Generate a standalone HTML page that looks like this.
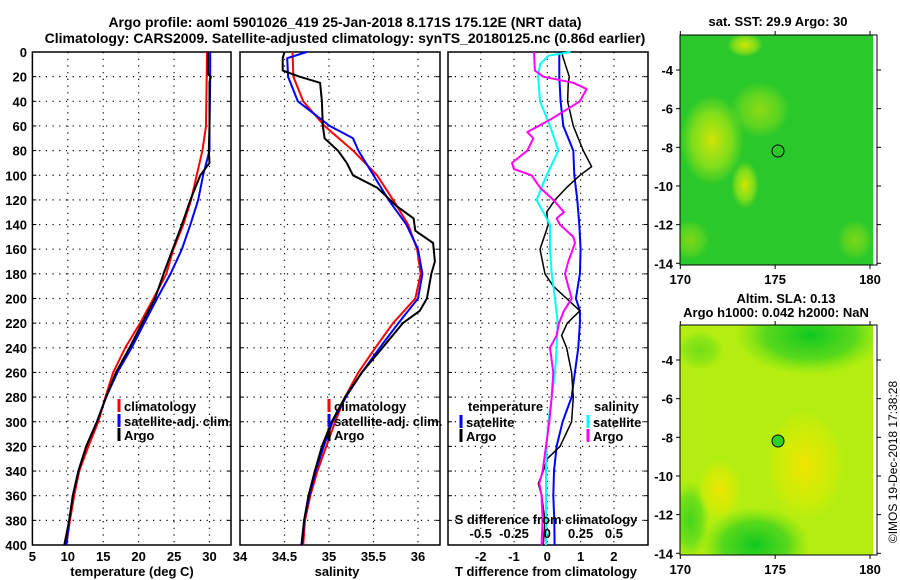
<!DOCTYPE html>
<html><head><meta charset="utf-8">
<style>
html,body{margin:0;padding:0;background:#fff;}
svg{display:block;font-family:"Liberation Sans",sans-serif;font-weight:bold;}
</style></head>
<body>
<svg id="fig" width="900" height="580" viewBox="0 0 900 580" xmlns="http://www.w3.org/2000/svg">
<defs>
  <radialGradient id="yel1" cx="0.5" cy="0.5" r="0.5"><stop offset="0" stop-color="#e8e800" stop-opacity="0.9"/><stop offset="0.6" stop-color="#b8ec10" stop-opacity="0.6"/><stop offset="1" stop-color="#b8ec10" stop-opacity="0"/></radialGradient>
  <radialGradient id="yel2" cx="0.5" cy="0.5" r="0.5"><stop offset="0" stop-color="#f0e400" stop-opacity="1"/><stop offset="0.7" stop-color="#e0ec00" stop-opacity="0.5"/><stop offset="1" stop-color="#e0ec00" stop-opacity="0"/></radialGradient>
  <radialGradient id="grn2" cx="0.5" cy="0.5" r="0.5"><stop offset="0" stop-color="#10c820" stop-opacity="1"/><stop offset="0.6" stop-color="#30d020" stop-opacity="0.7"/><stop offset="1" stop-color="#60dc10" stop-opacity="0"/></radialGradient>
  <clipPath id="clip1"><rect x="680" y="35" width="193" height="230"/></clipPath>
  <clipPath id="clip2"><rect x="680" y="325" width="193" height="230"/></clipPath>
</defs>
<text x="345" y="27" text-anchor="middle" font-size="14">Argo profile: aoml 5901026_419 25-Jan-2018 8.171S 175.12E (NRT data)</text>
<text x="345" y="43" text-anchor="middle" font-size="14">Climatology: CARS2009. Satellite-adjusted climatology: synTS_20180125.nc (0.86d earlier)</text>
<g id="p1"></g>
<g id="p2"></g>
<g id="p3"></g>

<!-- SST map -->
<g>
  <text x="778" y="26" text-anchor="middle" font-size="13">sat. SST: 29.9 Argo: 30</text>
  <g clip-path="url(#clip1)">
  <rect x="680" y="35" width="193" height="230" fill="#2ac82a"/>
  <ellipse cx="745" cy="45" rx="18" ry="12" fill="url(#yel1)"/>
  <ellipse cx="712" cy="140" rx="32" ry="45" fill="url(#yel1)"/>
  <ellipse cx="745" cy="185" rx="14" ry="24" fill="url(#yel1)"/>
  <ellipse cx="760" cy="110" rx="30" ry="28" fill="url(#yel1)" opacity="0.6"/>
  <ellipse cx="690" cy="240" rx="20" ry="20" fill="url(#yel1)" opacity="0.5"/>
  <ellipse cx="855" cy="240" rx="18" ry="20" fill="url(#yel1)" opacity="0.5"/>
  </g>
  <circle cx="778" cy="151" r="6" fill="none" stroke="#000" stroke-width="1"/>
  <rect x="680" y="35" width="197" height="230" fill="none" stroke="#000" stroke-width="1"/>
  <g id="m1ax"></g>
</g>
<!-- SLA map -->
<g>
  <text x="786" y="303" text-anchor="middle" font-size="13">Altim. SLA: 0.13</text>
  <text x="776" y="317" text-anchor="middle" font-size="13">Argo h1000: 0.042 h2000: NaN</text>
  <g clip-path="url(#clip2)">
  <rect x="680" y="325" width="193" height="230" fill="#b4ee10"/>
  <ellipse cx="810" cy="335" rx="75" ry="40" fill="url(#grn2)"/>
  <ellipse cx="755" cy="545" rx="55" ry="38" fill="url(#grn2)"/>
  <ellipse cx="690" cy="520" rx="20" ry="40" fill="url(#grn2)" opacity="0.7"/>
  <ellipse cx="805" cy="465" rx="40" ry="55" fill="url(#yel2)"/>
  <ellipse cx="720" cy="490" rx="22" ry="30" fill="url(#yel2)"/>
  <ellipse cx="700" cy="350" rx="25" ry="20" fill="url(#grn2)" opacity="0.4"/>
  </g>
  <circle cx="778" cy="441" r="6" fill="#30d020" stroke="#000" stroke-width="1"/>
  <rect x="680" y="325" width="197" height="230" fill="none" stroke="#000" stroke-width="1"/>
  <g id="m2ax"></g>
</g>
<text transform="translate(897,462) rotate(-90)" text-anchor="middle" font-size="12" font-weight="normal">©IMOS 19-Dec-2018 17:38:28</text>
</svg>
<script>
// ---------- data ----------
const depthT = [0,20,40,60,80,100,120,140,160,180,200,220,240,260,280,300,320,340,360,380,400];
const tempClim = [29.65,29.6,29.55,29.5,29.0,28.2,27.4,26.3,24.9,23.9,22.1,20.2,18.1,16.4,15.3,14.3,12.9,11.6,10.9,10.3,9.8];
const tempSat  = [30.1,30.1,30.05,30.0,30.0,29.1,28.4,27.3,26.1,24.5,22.6,20.8,19.0,17.0,15.4,14.1,12.6,11.5,10.7,10.2,9.8];
const depthTA = [0,18,20,24,40,60,80,90,100,120,140,160,180,200,220,240,260,280,300,320,340,360,380,400];
const tempArgo = [29.8,29.8,30.2,30.0,30.0,30.0,29.9,30.0,28.7,27.3,26.1,24.8,23.5,22.3,20.5,18.7,16.8,15.4,14.1,12.6,11.5,10.7,10.2,9.5];

const salClim = [34.59,34.6,34.71,34.95,35.27,35.54,35.72,35.89,35.99,36.03,35.97,35.72,35.52,35.33,35.18,35.07,34.97,34.87,34.79,34.73,34.71];
const depthSS = [0,5,20,40,60,70,80,100,120,140,160,180,200,220,240,260,280,300,320,340,360,380,400];
const salSat  = [34.75,34.53,34.54,34.65,35.01,35.27,35.33,35.5,35.67,35.87,36.0,36.05,36.0,35.78,35.57,35.37,35.19,35.04,34.94,34.85,34.78,34.72,34.7];
const depthSA = [0,5,15,20,25,40,60,70,80,90,100,110,125,135,145,155,170,180,200,210,220,240,260,280,300,320,340,360,380,400];
const salArgo = [34.5,34.48,34.48,34.67,34.9,34.92,34.93,34.95,35.1,35.2,35.27,35.54,35.76,35.95,35.97,36.17,36.19,36.15,36.1,36.02,35.83,35.6,35.37,35.18,35.03,34.92,34.84,34.77,34.72,34.69];

const depthD1 = [0,20,40,60,70,80,100,120,140,160,180,200,210,220,240,260,280,300,320,340,360,380,400];
const dTsat = [0.36,0.36,0.4,0.48,0.63,0.78,0.81,0.9,0.96,1.0,0.98,0.86,0.98,0.98,0.93,0.83,0.73,0.46,0.28,0.2,0.18,0.21,0.22];
const depthD2 = [0,5,20,25,40,60,80,93,100,110,120,130,140,160,180,190,200,210,220,230,240,260,280,300,320,330,340,350,360,380,400];
const dTargo = [0.43,0.48,0.66,0.63,0.61,0.78,1.08,1.33,0.98,0.58,0.23,-0.02,0.03,-0.22,-0.07,0.18,0.58,0.98,0.6,0.43,0.58,0.73,0.78,0.73,0.38,0.0,-0.12,-0.27,-0.17,-0.07,-0.12];
const depthD3 = [0,3,10,20,40,60,80,100,120,130,140,160,180,200,220,240,260,280,300,320,340,360,380,400];
const dSsat = [0.175,0.008,-0.055,-0.068,-0.055,0.02,0.083,-0.005,-0.08,-0.03,0.02,0.02,0.033,0.058,0.078,0.07,0.058,0.033,0.008,-0.005,-0.01,-0.01,-0.01,-0.01];
const depthD4 = [0,15,20,25,30,40,55,65,70,80,90,95,100,110,120,130,135,140,150,155,170,180,190,200,210,220,230,240,260,280,300,320,340,350,360,380,400];
const dSargo = [-0.1,-0.093,-0.03,0.195,0.295,0.245,0.02,-0.15,-0.105,-0.15,-0.265,-0.25,-0.118,-0.055,0.045,0.125,0.07,0.095,0.195,0.208,0.158,0.133,0.158,0.183,0.125,0.088,0.07,0.02,0.045,0.033,0.015,-0.01,-0.035,-0.06,-0.043,-0.035,-0.043];

const depthTicks = [0,20,40,60,80,100,120,140,160,180,200,220,240,260,280,300,320,340,360,380,400];
const tempTicks = [5,10,15,20,25,30,34];
const salTicks = [34,34.5,35,35.5,36];
const dTTicks = [-2,-1,0,1,2];
const dSTicks = [-0.5,-0.25,0,0.25,0.5];
const dSTickLabels = ['-0.5','-0.25','0','0.25','0.5'];

// ---------- helpers ----------
const NS = 'http://www.w3.org/2000/svg';
const Y0 = 52, Y1 = 545;
function yD(d){ return Y0 + (Y1 - Y0) * d / 400; }
function lin(d0,d1,r0,r1){ return v => r0 + (v - d0) * (r1 - r0) / (d1 - d0); }
function mk(parent, tag, attrs){
  const e = document.createElementNS(NS, tag);
  for (const k in attrs) e.setAttribute(k, attrs[k]);
  parent.appendChild(e); return e;
}
function txt(parent, x, y, s, anchor, size){
  const t = mk(parent, 'text', {x:x, y:y, 'text-anchor':anchor||'middle', 'font-size':size||13});
  t.textContent = s; return t;
}
function frame(g, x0, x1, xs, vgrid){
  vgrid.forEach(v => {
    const l = mk(g,'line',{x1:xs(v),x2:xs(v),y1:Y0,y2:Y1,stroke:'#000','stroke-width':1.2,'stroke-dasharray':'1.2 5.5'});
    
    
  });
  depthTicks.slice(1,-1).forEach(d => {
    const l = mk(g,'line',{x1:x0,x2:x1,y1:yD(d),y2:yD(d),stroke:'#000','stroke-width':1.2,'stroke-dasharray':'1.2 5.5'});
    
    
    mk(g,'line',{x1:x0,x2:x0+4,y1:yD(d),y2:yD(d),stroke:'#000'});
    mk(g,'line',{x1:x1-4,x2:x1,y1:yD(d),y2:yD(d),stroke:'#000'});
  });
  const r = mk(g,'rect',{x:x0,y:Y0,width:x1-x0,height:Y1-Y0,fill:'none',stroke:'#000','stroke-width':1.5});
  
  
}
function line(g, xs, vals, depths, color, w, name){
  const pts = vals.map((v,i) => xs(v).toFixed(1)+','+yD(depths[i]).toFixed(1)).join(' ');
  const p = mk(g,'polyline',{points:pts,fill:'none',stroke:color,'stroke-width':w,'stroke-linejoin':'round'});
  
  
}
function legend(g, x, y, color, label, name){
  mk(g,'rect',{x:x-1.5,y:y-7,width:3,height:13,fill:color});
  const t = txt(g, x+5, y+5, label, 'start', 13);
  
  
}

// ---------- panel 1 ----------
const p1 = document.getElementById('p1');
const xT = lin(5, 30, 32.4, 209.5);
frame(p1, 32.4, 231, xT, [10,15,20,25,30]);
depthTicks.forEach(d => {
  const t = txt(p1, 27, yD(d)+5, String(d), 'end', 13);
  
  
});
tempTicks.forEach(v => {
  const t = txt(p1, v===34 ? 240 : xT(v), 561, String(v), 'middle', 13);
  
  
});
const t1 = txt(p1, 132, 576, 'temperature (deg C)', 'middle', 13);


line(p1, xT, tempClim, depthT, '#ff0000', 2, 'temperature-climatology-line');
line(p1, xT, tempSat, depthT, '#0000ff', 2, 'temperature-satellite-line');
line(p1, xT, tempArgo, depthTA, '#000000', 2, 'temperature-argo-line');
legend(p1, 119, 406, '#ff0000', 'climatology', 'legend-climatology');
legend(p1, 119, 421, '#0000ff', 'satellite-adj. clim.', 'legend-satellite-adj');
legend(p1, 119, 435, '#000000', 'Argo', 'legend-argo');

// ---------- panel 2 ----------
const p2 = document.getElementById('p2');
const xS = lin(34, 36, 240, 418);
frame(p2, 240, 440, xS, [34.5,35,35.5,36]);
salTicks.slice(1).forEach(v => {
  const t = txt(p2, xS(v), 561, String(v), 'middle', 13);
  
  
});
const t2 = txt(p2, 337, 576, 'salinity', 'middle', 13);


line(p2, xS, salClim, depthT, '#ff0000', 2, 'salinity-climatology-line');
line(p2, xS, salSat, depthSS, '#0000ff', 2, 'salinity-satellite-line');
line(p2, xS, salArgo, depthSA, '#000000', 2, 'salinity-argo-line');
legend(p2, 329, 406, '#ff0000', 'climatology', 'legend-climatology');
legend(p2, 329, 421, '#0000ff', 'satellite-adj. clim.', 'legend-satellite-adj');
legend(p2, 329, 435, '#000000', 'Argo', 'legend-argo');

// ---------- panel 3 ----------
const p3 = document.getElementById('p3');
const xDT = lin(0, 1, 547.3, 580.6);
const xDS = lin(0, 0.25, 547.3, 580.6);
frame(p3, 448, 648, xDT, dTTicks);
dTTicks.forEach(v => {
  const t = txt(p3, xDT(v), 561, String(v), 'middle', 13);
  
  
});
const t3 = txt(p3, 546, 576, 'T difference from climatology', 'middle', 13);


line(p3, xDT, dTsat, depthD1, '#0000ff', 2, 't-diff-satellite-line');
line(p3, xDT, dTargo, depthD2, '#000000', 1.5, 't-diff-argo-line');
line(p3, xDS, dSsat, depthD3, '#00ffff', 2, 's-diff-satellite-line');
line(p3, xDS, dSargo, depthD4, '#ff00ff', 2, 's-diff-argo-line');
const ts = txt(p3, 546, 524, 'S difference from climatology', 'middle', 13);


dSTicks.forEach((v,i) => {
  const t = txt(p3, xDS(v), 538, dSTickLabels[i], 'middle', 13);
  
  
});
txt(p3, 468, 411, 'temperature', 'start', 13);
legend(p3, 461, 422, '#0000ff', 'satellite', 'legend-t-satellite');
legend(p3, 461, 436, '#000000', 'Argo', 'legend-t-argo');
txt(p3, 594, 411, 'salinity', 'start', 13);
legend(p3, 588, 422, '#00ffff', 'satellite', 'legend-s-satellite');
legend(p3, 588, 436, '#ff00ff', 'Argo', 'legend-s-argo');

// ---------- map axes ----------
const latTicks = [-4,-6,-8,-10,-12,-14];
const lonTicks = [170,175,180];
function mapAxes(id, top, bottom){
  const g = document.getElementById(id);
  const xl = lin(170, 180, 680.3, 870);
  const yl = lin(-4, -14, top + 35, top + 228.3);
  latTicks.forEach(v => {
    mk(g,'line',{x1:676,x2:680,y1:yl(v),y2:yl(v),stroke:'#000'});
    mk(g,'line',{x1:877,x2:881,y1:yl(v),y2:yl(v),stroke:'#000'});
    const t = txt(g, 673, yl(v)+5, String(v), 'end', 13);
    
    
  });
  lonTicks.forEach(v => {
    mk(g,'line',{x1:xl(v),x2:xl(v),y1:bottom,y2:bottom+4,stroke:'#000'});
    mk(g,'line',{x1:xl(v),x2:xl(v),y1:top-4,y2:top,stroke:'#000'});
    const t = txt(g, xl(v), bottom+19, String(v), 'middle', 13);
    
    
  });
}
mapAxes('m1ax', 35, 265);
mapAxes('m2ax', 325, 555);
</script>
</body></html>
